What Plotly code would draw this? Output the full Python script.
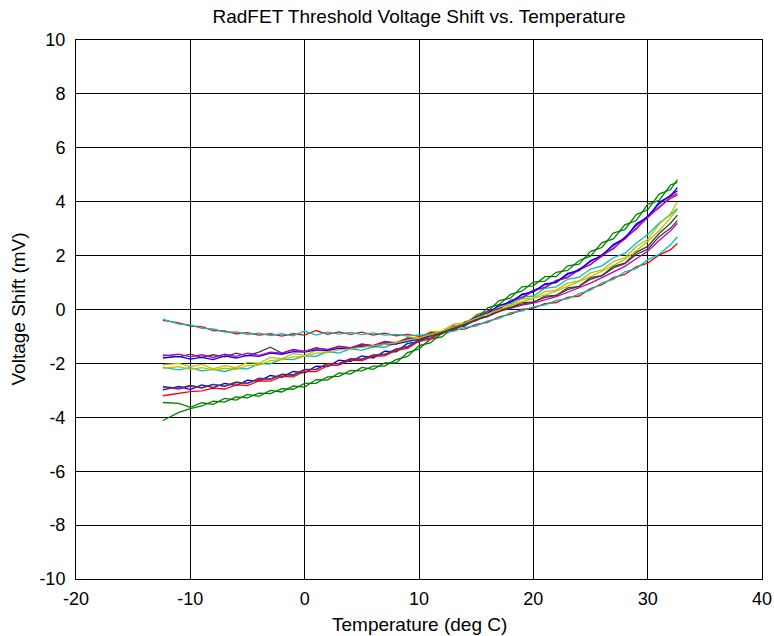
import plotly.graph_objects as go

# Temperature samples (deg C), shared by all traces
temps = [-12.4, -11, -10, -9, -8, -7, -6, -5, -4, -3, -2, -1, 0, 1, 2, 3, 4, 5, 6, 7, 8, 9, 10,
         11, 12, 13, 14, 15, 16, 17, 18, 19, 20, 21, 22, 23, 24, 25, 26, 27, 28, 29, 30, 31, 32, 32.6]

# Voltage shift (mV), one list per run
blue_a = [-2.98, -2.85, -2.97, -2.80, -2.90, -2.74, -2.82, -2.62, -2.66, -2.45, -2.52, -2.30, -2.35, -2.10, -2.12, -1.88, -1.93, -1.72, -1.80, -1.55, -1.57, -1.26, -1.20, -0.94, -0.90, -0.62, -0.56, -0.24, -0.15, 0.16, 0.24, 0.57, 0.64, 0.95, 1.00, 1.34, 1.44, 1.82, 1.98, 2.42, 2.62, 3.18, 3.42, 3.98, 4.22, 4.52]
green_a = [-3.45, -3.48, -3.63, -3.46, -3.52, -3.30, -3.36, -3.15, -3.22, -3.00, -3.06, -2.84, -2.88, -2.60, -2.62, -2.35, -2.40, -2.15, -2.22, -1.98, -1.98, -1.60, -1.46, -1.10, -1.02, -0.68, -0.62, -0.20, -0.08, 0.33, 0.42, 0.84, 0.88, 1.22, 1.22, 1.62, 1.68, 2.16, 2.30, 2.84, 2.96, 3.52, 3.70, 4.28, 4.45, 4.82]
red_a = [-3.20, -3.10, -3.05, -3.02, -2.92, -2.95, -2.80, -2.82, -2.65, -2.66, -2.48, -2.50, -2.30, -2.30, -2.08, -2.06, -1.88, -1.90, -1.74, -1.72, -1.52, -1.44, -1.18, -1.10, -0.86, -0.78, -0.52, -0.40, -0.12, 0.00, 0.30, 0.40, 0.70, 0.80, 1.06, 1.18, 1.50, 1.66, 2.04, 2.25, 2.68, 2.98, 3.46, 3.78, 4.18, 4.30]
cyan_a = [-2.15, -2.24, -2.16, -2.28, -2.22, -2.30, -2.18, -2.20, -2.02, -2.02, -1.84, -1.86, -1.72, -1.74, -1.56, -1.62, -1.46, -1.52, -1.38, -1.40, -1.24, -1.22, -1.06, -0.94, -0.84, -0.62, -0.54, -0.24, -0.16, 0.14, 0.22, 0.46, 0.50, 0.78, 0.84, 1.12, 1.20, 1.50, 1.62, 1.92, 2.08, 2.46, 2.78, 3.20, 3.52, 3.75]
magenta_a = [-2.88, -2.95, -2.84, -2.92, -2.78, -2.85, -2.70, -2.74, -2.55, -2.58, -2.40, -2.42, -2.22, -2.22, -2.00, -2.02, -1.82, -1.85, -1.68, -1.68, -1.46, -1.40, -1.12, -1.06, -0.82, -0.74, -0.46, -0.36, -0.06, 0.04, 0.34, 0.44, 0.72, 0.82, 1.08, 1.20, 1.46, 1.68, 1.98, 2.28, 2.62, 3.02, 3.40, 3.80, 4.12, 4.25]
yellow_a = [-2.05, -2.00, -2.12, -2.04, -2.20, -2.08, -2.16, -1.96, -2.00, -1.78, -1.82, -1.64, -1.70, -1.52, -1.55, -1.38, -1.44, -1.30, -1.34, -1.18, -1.22, -1.04, -1.04, -0.82, -0.80, -0.54, -0.50, -0.22, -0.14, 0.11, 0.16, 0.39, 0.42, 0.66, 0.72, 0.98, 1.06, 1.36, 1.46, 1.78, 1.92, 2.34, 2.60, 3.16, 3.55, 4.00]
gray_a = [-1.68, -1.76, -1.66, -1.78, -1.68, -1.76, -1.62, -1.72, -1.58, -1.40, -1.62, -1.48, -1.55, -1.42, -1.50, -1.36, -1.42, -1.28, -1.34, -1.18, -1.26, -1.06, -1.10, -0.86, -0.86, -0.62, -0.60, -0.30, -0.26, 0.02, 0.06, 0.26, 0.26, 0.50, 0.52, 0.80, 0.86, 1.18, 1.26, 1.60, 1.72, 2.12, 2.34, 2.82, 3.20, 3.50]
blue_b = [-1.80, -1.74, -1.84, -1.78, -1.86, -1.72, -1.80, -1.70, -1.74, -1.62, -1.66, -1.56, -1.58, -1.50, -1.52, -1.44, -1.44, -1.36, -1.38, -1.28, -1.28, -1.16, -1.12, -0.96, -0.88, -0.66, -0.54, -0.26, -0.14, 0.14, 0.28, 0.54, 0.68, 0.92, 1.02, 1.30, 1.48, 1.78, 2.02, 2.38, 2.66, 3.12, 3.46, 3.92, 4.24, 4.40]
green_b = [-4.12, -3.82, -3.68, -3.58, -3.40, -3.44, -3.24, -3.28, -3.10, -3.12, -2.94, -2.96, -2.74, -2.74, -2.50, -2.48, -2.26, -2.28, -2.10, -2.10, -1.86, -1.74, -1.34, -1.24, -0.88, -0.80, -0.48, -0.34, 0.06, 0.18, 0.56, 0.68, 1.02, 1.05, 1.38, 1.45, 1.82, 1.98, 2.48, 2.62, 3.14, 3.30, 3.90, 4.05, 4.62, 4.72]
red_b = [-0.40, -0.50, -0.62, -0.64, -0.78, -0.79, -0.90, -0.86, -0.95, -0.90, -0.99, -0.90, -0.95, -0.78, -0.92, -0.83, -0.92, -0.84, -0.95, -0.88, -0.98, -0.92, -1.00, -0.90, -0.88, -0.74, -0.73, -0.55, -0.48, -0.27, -0.18, 0.00, 0.05, 0.22, 0.26, 0.45, 0.50, 0.78, 0.92, 1.18, 1.30, 1.58, 1.72, 2.02, 2.22, 2.45]
cyan_b = [-0.36, -0.54, -0.57, -0.70, -0.72, -0.84, -0.83, -0.92, -0.88, -0.97, -0.90, -0.98, -0.80, -0.95, -0.84, -0.91, -0.85, -0.93, -0.87, -0.95, -0.92, -0.99, -0.94, -0.95, -0.82, -0.81, -0.66, -0.62, -0.42, -0.34, -0.12, -0.06, 0.11, 0.16, 0.34, 0.39, 0.59, 0.72, 0.99, 1.12, 1.40, 1.52, 1.84, 2.05, 2.40, 2.70]
magenta_b = [-1.72, -1.66, -1.76, -1.68, -1.78, -1.66, -1.74, -1.62, -1.70, -1.58, -1.62, -1.50, -1.56, -1.44, -1.48, -1.38, -1.42, -1.32, -1.34, -1.22, -1.24, -1.10, -1.08, -0.90, -0.84, -0.66, -0.60, -0.36, -0.26, -0.06, 0.04, 0.16, 0.24, 0.36, 0.48, 0.64, 0.80, 0.98, 1.18, 1.38, 1.60, 1.88, 2.16, 2.56, 2.92, 3.20]
yellow_b = [-2.18, -2.12, -2.22, -2.16, -2.24, -2.18, -2.22, -2.08, -2.06, -1.90, -1.86, -1.76, -1.74, -1.62, -1.60, -1.50, -1.46, -1.40, -1.36, -1.28, -1.24, -1.14, -1.06, -0.92, -0.80, -0.64, -0.50, -0.32, -0.16, 0.00, 0.14, 0.28, 0.40, 0.54, 0.68, 0.86, 1.02, 1.22, 1.42, 1.64, 1.86, 2.18, 2.52, 2.92, 3.40, 3.70]
gray_b = [-2.86, -2.92, -2.82, -2.90, -2.78, -2.84, -2.70, -2.74, -2.58, -2.58, -2.42, -2.44, -2.24, -2.22, -2.02, -2.00, -1.84, -1.84, -1.70, -1.66, -1.48, -1.38, -1.14, -1.00, -0.84, -0.70, -0.58, -0.40, -0.24, -0.06, 0.08, 0.20, 0.28, 0.44, 0.52, 0.74, 0.86, 1.12, 1.26, 1.54, 1.70, 2.04, 2.24, 2.70, 3.02, 3.30]

runs = [blue_a, green_a, red_a, cyan_a, magenta_a, yellow_a, gray_a,
        blue_b, green_b, red_b, cyan_b, magenta_b, yellow_b, gray_b]
colors = ["#0000FF", "#008000", "#FF0000", "#00BFBF", "#BF00BF", "#BFBF00", "#404040"]

x_ticks = [-20, -10, 0, 10, 20, 30, 40]
x_labels = ["-20", "-10", "0", "10", "20", "30", "40"]
y_ticks = [-10, -8, -6, -4, -2, 0, 2, 4, 6, 8, 10]
y_labels = ["-10", "-8", "-6", "-4", "-2", "0", "2", "4", "6", "8", "10"]

fig = go.Figure()
for i, vals in enumerate(runs):
    fig.add_trace(go.Scatter(x=temps, y=vals, mode="lines",
                             line=dict(color=colors[i % 7], width=1.3),
                             showlegend=False, hoverinfo="skip"))

font_family = "Liberation Sans, Arial, sans-serif"
axis_common = dict(showline=True, mirror="ticks", linecolor="black", linewidth=1,
                   showgrid=True, gridcolor="black", gridwidth=1, zeroline=False,
                   ticks="inside", ticklen=5, tickcolor="black", automargin=False,
                   tickfont=dict(family=font_family, size=18, color="black"))

fig.update_layout(
    width=774, height=636,
    margin=dict(l=76, r=12, t=40, b=57),
    paper_bgcolor="white", plot_bgcolor="white",
    title=dict(text="RadFET Threshold Voltage Shift vs. Temperature",
               xref="paper", x=0.5, xanchor="center", y=1 - 16 / 636, yanchor="middle",
               font=dict(family=font_family, size=19, color="black")),
    xaxis=dict(range=[-20, 40], tickvals=x_ticks, ticktext=x_labels,
               ticklabelstandoff=3, **axis_common),
    yaxis=dict(range=[-10, 10], tickvals=y_ticks, ticktext=y_labels,
               ticklabelstandoff=6, **axis_common),
    annotations=[
        dict(text="Temperature (deg C)", xref="paper", yref="paper",
             x=0.5, y=(579 - 624) / 539, xanchor="center", yanchor="middle",
             showarrow=False, font=dict(family=font_family, size=19, color="black")),
        dict(text="Voltage Shift (mV)", xref="paper", yref="paper",
             x=(18 - 76) / 686, y=0.5, xanchor="center", yanchor="middle",
             textangle=-90, showarrow=False,
             font=dict(family=font_family, size=19, color="black")),
    ],
)

fig.write_html("out.html", config={"displayModeBar": False},
               post_script="document.body.style.margin='0';document.body.style.overflow='hidden';")
